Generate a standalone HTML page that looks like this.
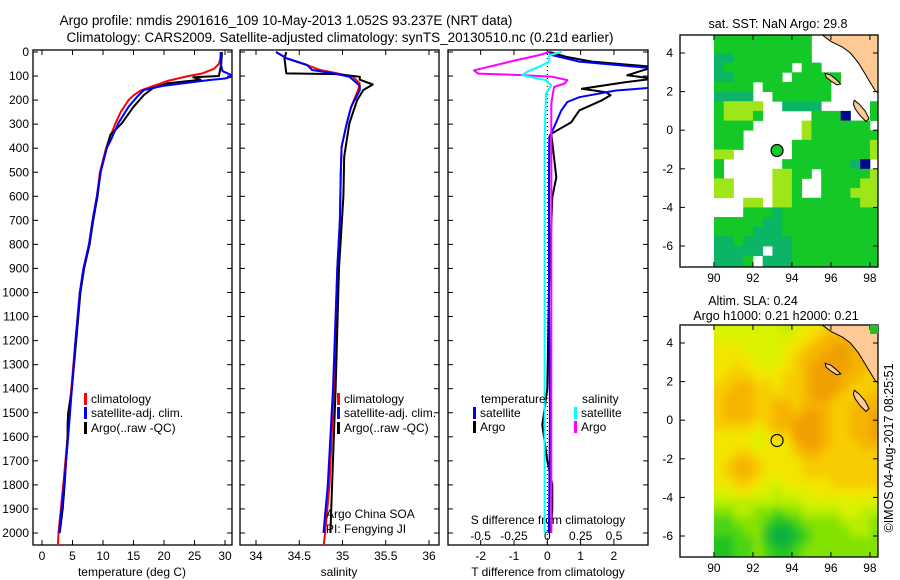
<!DOCTYPE html>
<html><head><meta charset="utf-8"><style>
html,body{margin:0;padding:0;background:#fff;}
svg{display:block;font-family:"Liberation Sans",sans-serif;}
text{fill:#000;}
</style></head><body>
<svg id="c" width="900" height="580" viewBox="0 0 900 580" xmlns="http://www.w3.org/2000/svg"></svg>
<script>
// ---------- DATA ----------
const tClimD=[0,20,50,70,90,100,120,140,160,180,200,250,300,350,400,500,600,700,800,900,1000,1200,1400,1600,1800,2000,2055];
const tClimV=[29.3,29.3,29.0,28.2,26.2,24.0,20.6,18.4,16.2,15.0,14.2,12.9,12.0,11.2,10.5,9.5,9.0,8.3,7.7,6.8,6.2,5.5,4.8,4.2,3.5,2.7,2.6];
const tSatD=[0,50,80,100,110,117,140,158,186,228,296,366,400,500,600,700,800,900,1000,1200,1400,1600,1800,2000];
const tSatV=[29.3,29.3,29.6,31.4,30.0,27.3,20.0,16.7,15.6,14.2,12.5,11.3,10.6,9.6,9.0,8.3,7.7,6.8,6.2,5.5,4.9,4.3,3.6,2.8];
const tArgoD=[0,50,100,105,115,130,150,179,228,296,345,400,500,600,700,800,900,1000,1200,1400,1500,1550,1600,1800,1900,2000];
const tArgoV=[29.5,29.4,29.0,24.8,26.0,20.6,18.2,16.7,15.0,13.1,11.2,10.6,9.6,9.1,8.4,7.8,6.9,6.3,5.6,4.9,4.3,4.2,4.2,3.7,3.4,2.9];
const sClimD=[0,27,54,75,89,103,131,158,228,296,394,500,700,900,1400,1800,2000,2055];
const sClimV=[34.23,34.36,34.59,34.74,34.94,35.12,35.20,35.18,35.10,35.05,34.99,34.98,34.97,34.94,34.90,34.85,34.80,34.78];
const sSatD=[0,27,54,75,89,103,140,158,228,296,394,500,700,900,1400,1800,2000];
const sSatV=[34.23,34.36,34.59,34.65,34.90,35.08,35.20,35.20,35.10,35.05,34.99,34.98,34.97,34.94,34.89,34.83,34.78];
const sArgoD=[0,27,89,92,103,115,135,158,200,296,435,600,900,1400,1800,2000];
const sArgoV=[34.35,34.33,34.35,34.93,35.20,35.20,35.35,35.24,35.17,35.08,35.02,35.01,34.96,34.92,34.88,34.86];
const dTsD=[0,13,40,68,148,160,188,208,243,313,354,500,1000,1500,2000];
const dTsV=[0.06,0.15,0.96,3.2,3.2,2.06,0.96,0.6,0.42,0.2,0.06,0.05,0.05,0.08,0.05];
const dTaD=[0,20,40,62,97,111,125,153,167,180,201,243,292,340,437,521,604,715,1000,1400,1500,1550,1600,1700,1800,1900,2000];
const dTaV=[0.06,0.57,1.34,3.2,2.4,3.2,2.36,1.04,1.76,1.9,1.64,0.96,0.72,0.12,0.2,0.27,0.15,0.12,0.05,0.0,-0.1,-0.15,-0.1,0.0,0.15,0.15,0.1];
const dSaD=[0,13,35,76,90,96,103,117,131,146,215,1000,2000];
const dSaV=[0.015,-0.06,-0.24,-0.55,-0.52,-0.19,0.04,0.15,0.13,0.05,0.03,0.03,0.03];
const dSsD=[0,13,40,61,82,96,117,139,174,354,1000,2000];
const dSsV=[0.11,0.015,0.015,-0.06,-0.15,-0.19,-0.01,0.03,-0.01,-0.02,-0.02,-0.02];
const depthTicks=[0,100,200,300,400,500,600,700,800,900,1000,1100,1200,1300,1400,1500,1600,1700,1800,1900,2000];
const tTicks=[0,5,10,15,20,25,30];
const sTicks=[34,34.5,35,35.5,36];
const dTTicks=[-2,-1,0,1,2];
const dSTicks=[-0.5,-0.25,0,0.25,0.5];
const mapLonTicks=[90,92,94,96,98];
const mapLatTicks=[4,2,0,-2,-4,-6];
const argoLon=93.237, argoLat=-1.052;
const sstRows=[
"gggggggggg.......","gggggggggg.......","ttgggggggg.......","tggggggg.gg......",
"ttggggg.ggggg....","gggg.ggggggg.....","tttt..gggggg.....","gyyyy..tttt.....g",
"gyyyg.....gggb..g","gggg.....ygggggg.","ggg......yggggggg","ggg.....ggggggggy",
"yy......ggggggggy","g......gggggggtb.","g.....yygg.gggggy","yy....yyg..ggggyy",
"yy....yyg..gggyyy","...yy.yygggggggyy","...gggtgggggggggg","gggggttgggggggggg",
"ggggtttgggggggggg","ttgtttttggggggggg","ttttt.ttggggggggg","tttg.tttggggggggg"];
const slaRows=[
"55555554566777777","55555555667888888","66655556678899888","66665556788999888",
"66766566789999887","67776667789998877","77887767789998777","78887777789987778",
"78887788788877888","78887788899877889","77776788999877889","66665677999877889",
"66665666899877788","66776666788777777","67887666677777777","67887666677777777",
"66776556666677777","55665545556666666","44444444455555555","33443323344445544",
"22333211233334443","22233100123333443","11223100123333333","11223211233333333"];
const sstColors={g:"#14c828",t:"#0cb466",y:"#9ee61a",b:"#00088c"};
const slaColors=["#10b040","#22c224","#48d414","#84e206","#b8ee00","#daf200","#f2e600","#f8cc00","#f6b400","#f0a000"];
const coast=[[95.35,5.3],[95.6,4.9],[96.0,4.6],[96.6,4.3],[97.0,4.0],[97.4,3.5],[97.7,3.0],[98.0,2.5],[98.3,2.0],[98.6,1.9],[98.6,5.3]];
const isl1=[[95.7,2.95],[96.0,2.85],[96.3,2.6],[96.5,2.4],[96.3,2.35],[96.0,2.55],[95.75,2.75]];
const isl2=[[97.2,1.55],[97.45,1.35],[97.75,1.0],[97.95,0.6],[97.8,0.45],[97.5,0.75],[97.25,1.1],[97.15,1.35]];

// ---------- HELPERS ----------
const svg=document.getElementById('c');
const NS="http://www.w3.org/2000/svg";
function el(tag,attrs,parent){const e=document.createElementNS(NS,tag);for(const k in attrs)e.setAttribute(k,attrs[k]);(parent||svg).appendChild(e);return e;}
function txt(s,x,y,anchor,size,parent){const t=el('text',{x:x,y:y,'text-anchor':anchor||'start','font-size':size||12},parent);t.textContent=s;return t;}
const Y0=52, PXM=0.2405;
function yD(d){return Y0+d*PXM;}
const P1={x0:33,x1:232}, P2={x0:240,x1:439}, P3={x0:448,x1:648};
const PT=50, PB=545;
function xT(v){return 42+v*6.1;}
function xS(v){return 256+(v-34)*86.5;}
function xDT(v){return 547.3+v*33.3;}
function xDS(v){return 547.3+v*133.3;}

let t;
t=txt("Argo profile: nmdis 2901616_109 10-May-2013 1.052S 93.237E (NRT data)",286,25,'middle',13.5);


t=txt("Climatology: CARS2009. Satellite-adjusted climatology: synTS_20130510.nc (0.21d earlier)",340,42,'middle',13.5);



const defs=el('defs',{});
[['cp1',P1],['cp2',P2],['cp3',P3]].forEach(([id,P])=>{const c=el('clipPath',{id:id},defs);el('rect',{x:P.x0,y:PT,width:P.x1-P.x0,height:PB-PT},c);});

function panelFrame(P,name){
  const r=el('rect',{x:P.x0,y:PT,width:P.x1-P.x0,height:PB-PT,fill:'none',stroke:'#000','stroke-width':1.3});
  
  
  depthTicks.forEach(d=>{el('line',{x1:P.x0,x2:P.x0+5,y1:yD(d),y2:yD(d),stroke:'#000'});el('line',{x1:P.x1-5,x2:P.x1,y1:yD(d),y2:yD(d),stroke:'#000'});});
}
function xTicks(P,ticks,f,labels,ly,top){
  ticks.forEach((v,i)=>{const x=f(v);el('line',{x1:x,x2:x,y1:PB-5,y2:PB,stroke:'#000'});if(top)el('line',{x1:x,x2:x,y1:PT,y2:PT+5,stroke:'#000'});
    const l=txt(labels[i],x,ly,'middle',12);
    
    });
}
function line(D,V,fx,color,clip,name,w){
  const pts=D.map((d,i)=>fx(V[i]).toFixed(1)+","+yD(d).toFixed(1)).join(" ");
  const p=el('polyline',{points:pts,fill:'none',stroke:color,'stroke-width':w||2,'clip-path':'url(#'+clip+')','stroke-linejoin':'round'});
  
  
}
function legend(x,y,color,label,name){
  el('rect',{x:x,y:y-10,width:3,height:12,fill:color});
  const l=txt(label,x+7,y,'start',12);
  
  
}

depthTicks.forEach(d=>{const l=txt(String(d),29,yD(d)+4,'end',12);
  
  });

panelFrame(P1,'temperature-panel');
xTicks(P1,tTicks,xT,tTicks.map(String),560,true);
t=txt("temperature (deg C)",132,576,'middle',12);


line(tClimD,tClimV,xT,'#ff0000','cp1','temp-climatology-line');
line(tArgoD,tArgoV,xT,'#000000','cp1','temp-argo-line');
line(tSatD,tSatV,xT,'#0000ff','cp1','temp-satellite-line');
legend(84,403,'#ff0000','climatology','legend-climatology');
legend(84,417,'#0000ff','satellite-adj. clim.','legend-satellite');
legend(84,432,'#000000','Argo(..raw -QC)','legend-argo');

panelFrame(P2,'salinity-panel');
xTicks(P2,sTicks,xS,["34","34.5","35","35.5","36"],560,true);
t=txt("salinity",339,576,'middle',12);


line(sClimD,sClimV,xS,'#ff0000','cp2','sal-climatology-line');
line(sArgoD,sArgoV,xS,'#000000','cp2','sal-argo-line');
line(sSatD,sSatV,xS,'#0000ff','cp2','sal-satellite-line');
legend(337,403,'#ff0000','climatology','legend-climatology-2');
legend(337,417,'#0000ff','satellite-adj. clim.','legend-satellite-2');
legend(337,432,'#000000','Argo(..raw -QC)','legend-argo-2');
t=txt("Argo China SOA",326,518,'start',12);


t=txt("PI: Fengying JI",326,533,'start',12);



panelFrame(P3,'difference-panel');
xTicks(P3,dTTicks,xDT,dTTicks.map(String),560,false);
dSTicks.forEach((v,i)=>{const x=xDS(v);el('line',{x1:x,x2:x,y1:PT,y2:PT+5,stroke:'#000'});});
dSTicks.forEach((v,i)=>{const l=txt(["-0.5","-0.25","0","0.25","0.5"][i],xDS(v),540,'middle',12);
  
  });
t=txt("S difference from climatology",548,524,'middle',12);


t=txt("T difference from climatology",548,576,'middle',12);


const zl=el('line',{x1:xDT(0),x2:xDT(0),y1:PT,y2:PB,stroke:'#000','stroke-dasharray':'1,3'});


line(dTaD,dTaV,xDT,'#000000','cp3','t-diff-argo-line');
line(dTsD,dTsV,xDT,'#0000ff','cp3','t-diff-satellite-line');
line(dSaD,dSaV,xDS,'#ff00ff','cp3','s-diff-argo-line');
line(dSsD,dSsV,xDS,'#00ffff','cp3','s-diff-satellite-line');
t=txt("temperature",481,403,'start',12);


t=txt("salinity",582,403,'start',12);


legend(473,417,'#0000ff','satellite','legend-t-satellite');
legend(473,431,'#000000','Argo','legend-t-argo');
legend(574,417,'#00ffff','satellite','legend-s-satellite');
legend(574,431,'#ff00ff','Argo','legend-s-argo');

// ---------- MAPS ----------
function mx(lon){return 680+(lon-88.26)*19.5;}
function makeMap(off,id,rows,colorFn,name,filled,blur){
  const top=35+off, bot=267+off;
  function my(lat){return 53+off+(4-lat)*19.3;}
  const c=el('clipPath',{id:id},defs);el('rect',{x:680,y:top,width:198,height:bot-top},c);
  const c2=el('clipPath',{id:id+'d'},defs);el('rect',{x:mx(90),y:top,width:878-mx(90),height:bot-top},c2);
  const g=el('g',{'clip-path':'url(#'+id+')'});
  
  
  const dg=el('g',{'clip-path':'url(#'+id+'d)'},g);
  const inner=el('g',blur?{filter:'url(#bl)'}:{},dg);
  rows.forEach((row,ri)=>{
    const lat=5-ri*0.5;
    for(let ci=0;ci<row.length;ci++){
      const col=colorFn(row[ci]); if(!col)continue;
      const lon=90+ci*0.5;
      const ex=blur&&ci===0?10:0;
      const extra=(ri===rows.length-1)?12:0;
      const r=el('rect',{x:(mx(lon)-ex).toFixed(2),y:(my(lat)-(blur&&ri===0?12:0)).toFixed(2),width:(0.5*19.5+0.4+ex+(blur&&ci===row.length-1?12:0)).toFixed(2),height:(0.5*19.3+0.4+extra+(blur&&ri===0?12:0)).toFixed(2),fill:col},inner);
      
      
    }
  });
  function poly(pts,fill){const p=el('polygon',{points:pts.map(q=>mx(q[0]).toFixed(1)+","+my(q[1]).toFixed(1)).join(" "),fill:fill,stroke:'#000','stroke-width':1},g);return p;}
  const land=poly(coast,'#fdca96');
  const i1=poly(isl1,'#fdca96');
  const i2=poly(isl2,'#fdca96');
  const fr=el('rect',{x:680,y:top,width:198,height:bot-top,fill:'none',stroke:'#000','stroke-width':1.3});
  
  
  mapLonTicks.forEach(v=>{const x=mx(v);el('line',{x1:x,x2:x,y1:bot-5,y2:bot,stroke:'#000'});el('line',{x1:x,x2:x,y1:top,y2:top+5,stroke:'#000'});
    const l=txt(String(v),x,bot+15,'middle',12);
    
    });
  mapLatTicks.forEach(v=>{const y=my(v);el('line',{x1:680,x2:685,y1:y,y2:y,stroke:'#000'});el('line',{x1:873,x2:878,y1:y,y2:y,stroke:'#000'});
    const l=txt(String(v),673,y+4,'end',12);
    
    });
  const m=el('circle',{cx:mx(argoLon),cy:my(argoLat),r:6,fill:filled?'#14c828':'none',stroke:'#000','stroke-width':1.2});
  
  
}
const flt=el('filter',{id:'bl',x:'-10%',y:'-10%',width:'120%',height:'120%'},defs);
el('feGaussianBlur',{stdDeviation:4},flt);
makeMap(0,'cm1',sstRows,ch=>sstColors[ch]||null,'sst-map',true,false);
makeMap(290,'cm2',slaRows,ch=>slaColors[+ch],'sla-map',false,true);
const gc=el('rect',{x:870,y:325,width:8,height:9,fill:'#22c224'});


t=txt("sat. SST: NaN Argo: 29.8",778,28,'middle',12.5);


t=txt("Altim. SLA: 0.24",753,305,'middle',12.5);


t=txt("Argo h1000: 0.21 h2000: 0.21",776,320,'middle',12.5);


t=txt("©IMOS 04-Aug-2017 08:25:51",0,0,'middle',12.5);
t.setAttribute('transform','translate(893,448) rotate(-90)');


</script>
</body></html>
